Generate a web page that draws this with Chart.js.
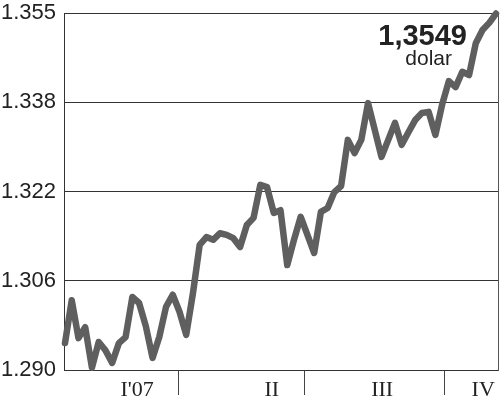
<!DOCTYPE html>
<html>
<head>
<meta charset="utf-8">
<script src="https://cdn.jsdelivr.net/npm/chart.js@4.4.1/dist/chart.umd.min.js"></script>
<style>
  html, body { margin: 0; padding: 0; background: #fff; }
  #wrap { width: 500px; height: 402px; }
</style>
</head>
<body>
<div id="wrap"><canvas id="rateChart" width="500" height="402"></canvas></div>
<script>
// EUR/USD during 2007 (about two readings a week)
const rates = [
    1.2949, 1.3027, 1.2958, 1.2978, 1.2904, 1.2951, 1.2936, 1.2913, 1.2949, 1.2960,
    1.3033, 1.3022, 1.2980, 1.2922, 1.2960, 1.3015, 1.3037, 1.3006, 1.2964, 1.3040,
    1.3128, 1.3142, 1.3137, 1.3149, 1.3146, 1.3140, 1.3124, 1.3164, 1.3177, 1.3237,
    1.3233, 1.3186, 1.3191, 1.3091, 1.3137, 1.3179, 1.3146, 1.3113, 1.3188, 1.3195,
    1.3224, 1.3235, 1.3319, 1.3295, 1.3319, 1.3386, 1.3337, 1.3288, 1.3319, 1.3350,
    1.3310, 1.3333, 1.3355, 1.3368, 1.3370, 1.3328, 1.3383, 1.3426, 1.3415, 1.3443,
    1.3437, 1.3495, 1.3519, 1.3532, 1.3549
];

const yMin = 1.290;
const yMax = 1.355;
const yTickLabels = ['1.290', '1.306', '1.322', '1.338', '1.355'];

// quarters, in reading index units
const quarterLabels = ["I'07", 'II', 'III', 'IV'];
const quarterLabelAt = [10.7, 30.7, 47.1, 62.1];
const quarterEnds = [16.9, 35.5, 56.4];

const lastValue = '1,3549';
const unitLabel = 'dolar';

const points = rates.map((v, i) => ({ x: i, y: v }));
const labelAt = new Map(quarterLabelAt.map((p, i) => [p, quarterLabels[i]]));

// big "last value" note in the top right corner
const lastValueNote = {
    id: 'lastValueNote',
    afterDraw(chart) {
        const { ctx, chartArea } = chart;
        ctx.save();
        ctx.fillStyle = '#222';
        ctx.textAlign = 'right';
        ctx.textBaseline = 'alphabetic';
        ctx.font = 'bold 29px "Liberation Sans", Arial, sans-serif';
        ctx.fillText(lastValue, chartArea.right - 31, chartArea.top + 32);
        ctx.font = '21px "Liberation Sans", Arial, sans-serif';
        ctx.fillText(unitLabel, chartArea.right - 46, chartArea.top + 52);
        ctx.restore();
    }
};

// keep the scales from pushing the plot area in for their end labels
function noEdgePadding(s) {
    s.paddingTop = 0;
    s.paddingBottom = 0;
    s.paddingLeft = 0;
    s.paddingRight = 0;
}

new Chart(document.getElementById('rateChart'), {
    type: 'line',
    data: {
        datasets: [{
            data: points,
            borderColor: '#5f5f5f',
            borderWidth: 6.5,
            borderJoinStyle: 'round',
            borderCapStyle: 'round',
            pointRadius: 0,
            tension: 0,
            clip: false
        }]
    },
    options: {
        responsive: false,
        animation: false,
        layout: { padding: { top: 13, right: 0, bottom: 0, left: 0 } },
        plugins: {
            legend: { display: false },
            tooltip: { enabled: false }
        },
        scales: {
            x: {
                type: 'linear',
                min: -0.15,
                max: 64.3,
                afterFit: (s) => { s.height = 32; noEdgePadding(s); },
                afterBuildTicks: (s) => {
                    s.ticks = [...quarterEnds, ...quarterLabelAt]
                        .sort((a, b) => a - b)
                        .map(v => ({ value: v }));
                },
                ticks: {
                    autoSkip: false,
                    maxRotation: 0,
                    padding: -18,
                    color: '#222',
                    font: { family: '"Liberation Serif", serif', size: 22 },
                    callback: (v) => labelAt.get(v) || ''
                },
                grid: {
                    drawOnChartArea: false,
                    tickLength: 25,
                    lineWidth: 1,
                    color: (c) => (c.tick && quarterEnds.includes(c.tick.value)) ? '#444' : 'rgba(0,0,0,0)'
                },
                border: { display: true, color: '#333', width: 1 }
            },
            y: {
                min: yMin,
                max: yMax,
                afterFit: (s) => { s.width = 64; noEdgePadding(s); },
                afterBuildTicks: (s) => {
                    s.ticks = yTickLabels.map((_, k) => ({ value: yMin + k * (yMax - yMin) / 4 }));
                },
                ticks: {
                    padding: 8,
                    color: '#222',
                    font: { family: '"Liberation Sans", Arial, sans-serif', size: 22 },
                    callback: (v, i) => yTickLabels[i]
                },
                grid: { drawTicks: false, color: '#333', lineWidth: 1 },
                border: { display: true, color: '#333', width: 1 }
            },
            y2: {
                position: 'right',
                min: yMin,
                max: yMax,
                afterFit: (s) => { s.width = 2; noEdgePadding(s); },
                ticks: { display: false },
                grid: { drawOnChartArea: false, drawTicks: false },
                border: { display: true, color: '#555', width: 1 }
            }
        }
    },
    plugins: [lastValueNote]
});
</script>
</body>
</html>
